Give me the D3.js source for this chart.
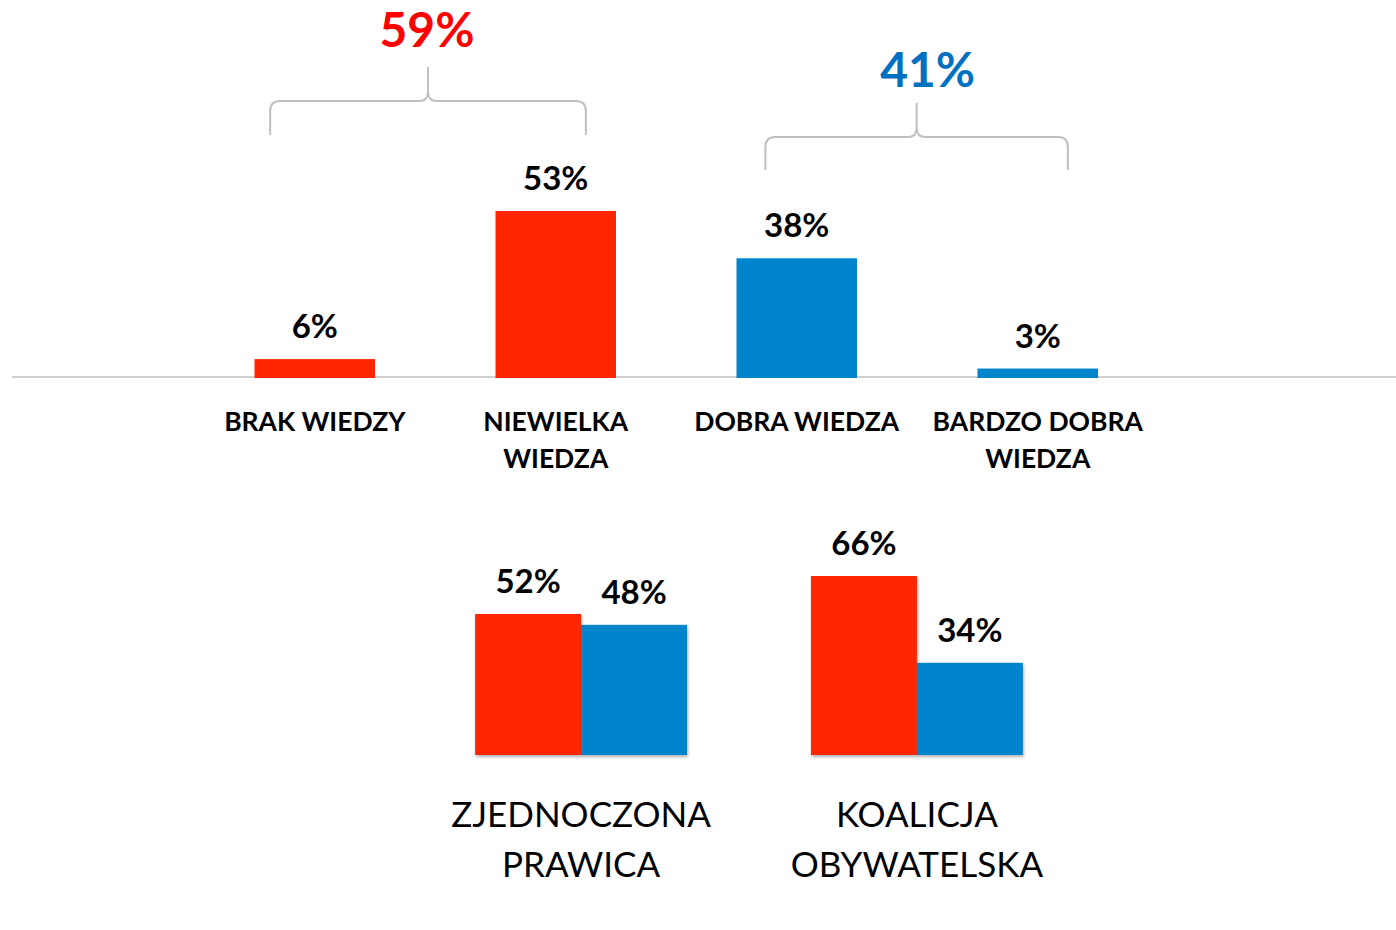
<!DOCTYPE html>
<html>
<head>
<meta charset="utf-8">
<script src="https://cdn.jsdelivr.net/npm/d3@7"></script>
<style>
  body { margin: 0; background: #fff; }
  svg { display: block; font-family: Lato, "Open Sans", sans-serif; }
</style>
</head>
<body>
<div id="chart"></div>
<script>
// Top chart: level of knowledge
const knowledgeCats = ['BRAK WIEDZY', 'NIEWIELKA WIEDZA', 'DOBRA WIEDZA', 'BARDZO DOBRA WIEDZA'];
const knowledgeLines = [['BRAK WIEDZY'], ['NIEWIELKA', 'WIEDZA'], ['DOBRA WIEDZA'], ['BARDZO DOBRA', 'WIEDZA']];
const knowledgeValues = [6, 53, 38, 3];
const knowledgeSide = ['neg', 'neg', 'pos', 'pos'];

// Bracket totals
const bracketLabels = ['59%', '41%'];
const bracketSpans = [[0, 1], [2, 3]];

// Bottom chart: by party
const parties = ['ZJEDNOCZONA PRAWICA', 'KOALICJA OBYWATELSKA'];
const partyLines = [['ZJEDNOCZONA', 'PRAWICA'], ['KOALICJA', 'OBYWATELSKA']];
const partyNeg = [52, 66];
const partyPos = [48, 34];

const width = 1396, height = 930;
const colors = { neg: '#ff2600', pos: '#0085cc' };

const svg = d3.select('#chart')
    .append('svg')
    .attr('width', width)
    .attr('height', height);

const defs = svg.append('defs');
const shadow = defs.append('filter')
    .attr('id', 'shadow')
    .attr('x', '-10%').attr('y', '-10%')
    .attr('width', '130%').attr('height', '130%');
shadow.append('feDropShadow')
    .attr('dx', 1).attr('dy', 2)
    .attr('stdDeviation', 1.5)
    .attr('flood-color', '#000')
    .attr('flood-opacity', 0.3);

// ---------- top chart ----------
const x = d3.scaleBand()
    .domain(knowledgeCats)
    .range([194.25, 1158.25])
    .paddingInner(0.5)
    .paddingOuter(0.25);

const y = d3.scaleLinear()
    .domain([0, 53])
    .range([378, 211]);

// baseline
svg.append('line')
    .attr('x1', 12).attr('x2', width)
    .attr('y1', y(0) - 1).attr('y2', y(0) - 1)
    .attr('stroke', '#d0d0d0')
    .attr('stroke-width', 2);

const topChart = svg.append('g');

topChart.selectAll('.bar')
    .data(knowledgeCats)
    .enter()
    .append('rect')
    .attr('x', d => x(d))
    .attr('width', x.bandwidth())
    .attr('y', (d, i) => y(knowledgeValues[i]))
    .attr('height', (d, i) => y(0) - y(knowledgeValues[i]))
    .attr('fill', (d, i) => colors[knowledgeSide[i]]);

topChart.selectAll('.val')
    .data(knowledgeCats)
    .enter()
    .append('text')
    .attr('x', d => x(d) + x.bandwidth() / 2)
    .attr('y', (d, i) => y(knowledgeValues[i]) - 21)
    .attr('text-anchor', 'middle')
    .attr('font-size', 33)
    .attr('font-weight', 700)
    .attr('fill', '#000')
    .text((d, i) => knowledgeValues[i] + '%');

topChart.selectAll('.cat')
    .data(knowledgeCats)
    .enter()
    .append('text')
    .attr('x', d => x(d) + x.bandwidth() / 2)
    .attr('y', 431)
    .attr('text-anchor', 'middle')
    .attr('font-size', 26.5)
    .attr('font-weight', 700)
    .attr('fill', '#000')
    .each(function(d, i) {
        d3.select(this).selectAll('tspan')
            .data(knowledgeLines[i])
            .enter()
            .append('tspan')
            .attr('x', x(d) + x.bandwidth() / 2)
            .attr('dy', (t, j) => j === 0 ? 0 : 37)
            .text(t => t);
    });

// brackets
const bracketLayout = [
    { l: 0.13, r: 0.75, bottom: 135, hy: 101, tip: 67, textY: 47, color: '#ff0000', tx: -1 },
    { l: 0.24, r: 0.75, bottom: 170, hy: 137, tip: 103, textY: 87, color: '#0070c0', tx: 11 }
];

function bracePath(L, R, cx, bottom, hy, tip) {
    const r = 10, t = 9;
    return `M${L},${bottom} V${hy + r} Q${L},${hy} ${L + r},${hy} H${cx - t} Q${cx},${hy} ${cx},${hy - t} V${tip}` +
           ` M${cx},${hy - t} Q${cx},${hy} ${cx + t},${hy} H${R - r} Q${R},${hy} ${R},${hy + r} V${bottom}`;
}

bracketSpans.forEach((span, i) => {
    const lay = bracketLayout[i];
    const L = x(knowledgeCats[span[0]]) + x.bandwidth() * lay.l;
    const R = x(knowledgeCats[span[1]]) + x.bandwidth() * lay.r;
    const cx = (L + R) / 2;
    svg.append('path')
        .attr('d', bracePath(L, R, cx, lay.bottom, lay.hy, lay.tip))
        .attr('fill', 'none')
        .attr('stroke', '#bfbfbf')
        .attr('stroke-width', 2);
    svg.append('text')
        .attr('x', cx + lay.tx)
        .attr('y', lay.textY)
        .attr('text-anchor', 'middle')
        .attr('font-size', 48)
        .attr('font-weight', 700)
        .attr('fill', lay.color)
        .text(bracketLabels[i]);
});

// ---------- bottom chart ----------
const x0 = d3.scaleBand()
    .domain(parties)
    .range([413, 1085])
    .paddingInner(0.369)
    .paddingOuter(0.185);

const x1 = d3.scaleBand()
    .domain(['neg', 'pos'])
    .range([0, x0.bandwidth()]);

const y2 = d3.scaleLinear()
    .domain([0, 66])
    .range([755, 576]);

const groupData = parties.map((p, i) => ({
    party: p,
    values: [{ key: 'neg', v: partyNeg[i] }, { key: 'pos', v: partyPos[i] }]
}));

const groups = svg.selectAll('.grp')
    .data(groupData)
    .enter()
    .append('g')
    .attr('transform', d => `translate(${x0(d.party)},0)`);

groups.selectAll('rect')
    .data(d => d.values)
    .enter()
    .append('rect')
    .attr('x', d => x1(d.key))
    .attr('width', x1.bandwidth())
    .attr('y', d => y2(d.v))
    .attr('height', d => y2(0) - y2(d.v))
    .attr('fill', d => colors[d.key])
    .attr('filter', 'url(#shadow)');

groups.selectAll('.val')
    .data(d => d.values)
    .enter()
    .append('text')
    .attr('x', d => x1(d.key) + x1.bandwidth() / 2)
    .attr('y', d => y2(d.v) - 21)
    .attr('text-anchor', 'middle')
    .attr('font-size', 33)
    .attr('font-weight', 700)
    .attr('fill', '#000')
    .text(d => d.v + '%');

svg.selectAll('.pcat')
    .data(parties)
    .enter()
    .append('text')
    .attr('x', d => x0(d) + x0.bandwidth() / 2)
    .attr('y', 827)
    .attr('text-anchor', 'middle')
    .attr('font-size', 35)
    .attr('fill', '#000')
    .each(function(d, i) {
        d3.select(this).selectAll('tspan')
            .data(partyLines[i])
            .enter()
            .append('tspan')
            .attr('x', x0(d) + x0.bandwidth() / 2)
            .attr('dy', (t, j) => j === 0 ? 0 : 50)
            .text(t => t);
    });
</script>
</body>
</html>
